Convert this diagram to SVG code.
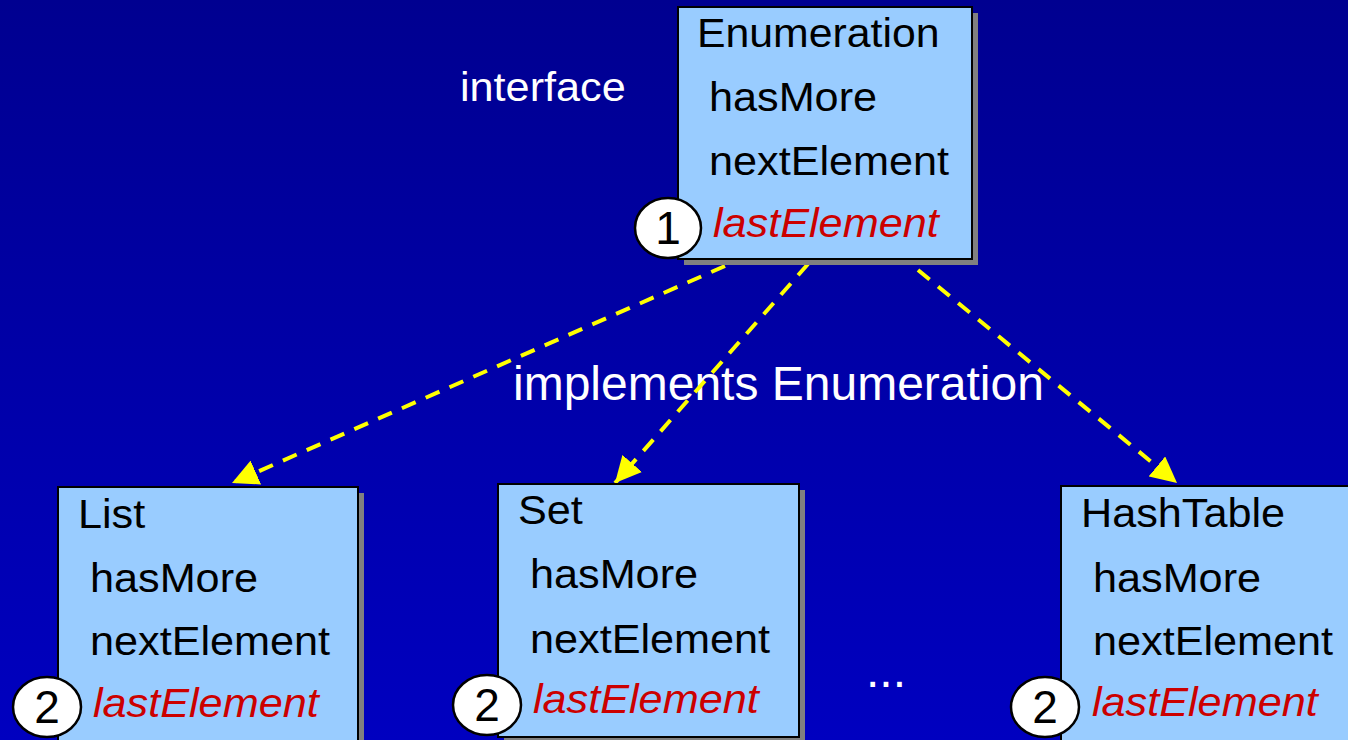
<svg xmlns="http://www.w3.org/2000/svg" width="1348" height="740" viewBox="0 0 1348 740">
  <defs>
    <linearGradient id="bg" x1="0" y1="0" x2="0" y2="1">
      <stop offset="0" stop-color="#000090"/>
      <stop offset="1" stop-color="#0000C0"/>
    </linearGradient>
    <marker id="head" markerUnits="userSpaceOnUse" markerWidth="26" markerHeight="26" viewBox="0 -12 24 24" refX="24" refY="0" orient="auto">
      <path d="M0,-12 L24,0 L0,12 z" fill="#FFFF00"/>
    </marker>
  </defs>
  <style>
    text { font-family: "Liberation Sans", Arial, sans-serif; }
    .label { fill: #FFFFFF; }
    .box { fill: #99CCFF; stroke: #000000; stroke-width: 2; }
    .shadow { fill: #808080; }
    .t { font-size: 40px; fill: #000000; }
    .last { font-size: 40px; fill: #CC0000; font-style: italic; }
    .badge { fill: #FFFFFF; stroke: #000000; stroke-width: 2.5; }
    .num { font-size: 46px; fill: #000000; text-anchor: middle; }
    .link { fill: none; stroke: #FFFF00; stroke-width: 4; stroke-dasharray: 15 11; marker-end: url(#head); }
  </style>

  <rect width="1348" height="740" fill="url(#bg)"/>

  <!-- free labels -->
  <text class="label" font-size="40" transform="translate(460,101) scale(1.08,1)">interface</text>
  <text class="label" font-size="48" x="513" y="400">implements Enumeration</text>
  <text class="label" font-size="48" x="866" y="687">...</text>

  <!-- dashed "implements" connectors -->
  <g id="connectors">
    <line class="link" x1="725" y1="266" x2="232" y2="483"/>
    <line class="link" x1="808" y1="264" x2="615" y2="483"/>
    <line class="link" x1="918" y1="270" x2="1177" y2="483"/>
  </g>

  <!-- interface -->
  <g id="enumeration">
    <rect class="shadow" x="684" y="13" width="294" height="252"/>
    <rect class="box" x="678" y="7" width="294" height="252"/>
    <text class="t" transform="translate(697,47) scale(1.07,1)">Enumeration</text>
    <text class="t" transform="translate(709,111) scale(1.08,1)">hasMore</text>
    <text class="t" transform="translate(709,175) scale(1.08,1)">nextElement</text>
    <text class="last" transform="translate(713,237) scale(1.08,1)">lastElement</text>
    <ellipse class="badge" cx="668" cy="228" rx="33" ry="30"/>
    <text class="num" x="668" y="244">1</text>
  </g>

  <!-- implementing classes -->
  <g id="list">
    <rect class="shadow" x="64" y="493" width="300" height="260"/>
    <rect class="box" x="58" y="487" width="300" height="260"/>
    <text class="t" transform="translate(78,528) scale(1.08,1)">List</text>
    <text class="t" transform="translate(90,592) scale(1.08,1)">hasMore</text>
    <text class="t" transform="translate(90,655) scale(1.08,1)">nextElement</text>
    <text class="last" transform="translate(93,717) scale(1.08,1)">lastElement</text>
    <ellipse class="badge" cx="47" cy="707" rx="34" ry="30"/>
    <text class="num" x="47" y="723">2</text>
  </g>

  <g id="set">
    <rect class="shadow" x="504" y="490" width="301" height="253"/>
    <rect class="box" x="498" y="484" width="301" height="253"/>
    <text class="t" transform="translate(518,524) scale(1.08,1)">Set</text>
    <text class="t" transform="translate(530,588) scale(1.08,1)">hasMore</text>
    <text class="t" transform="translate(530,653) scale(1.08,1)">nextElement</text>
    <text class="last" transform="translate(533,713) scale(1.08,1)">lastElement</text>
    <ellipse class="badge" cx="487" cy="705" rx="34" ry="30"/>
    <text class="num" x="487" y="721">2</text>
  </g>

  <g id="hashtable">
    <rect class="shadow" x="1067" y="492" width="300" height="260"/>
    <rect class="box" x="1061" y="486" width="300" height="260"/>
    <text class="t" transform="translate(1081,527) scale(1.08,1)">HashTable</text>
    <text class="t" transform="translate(1093,592) scale(1.08,1)">hasMore</text>
    <text class="t" transform="translate(1093,655) scale(1.08,1)">nextElement</text>
    <text class="last" transform="translate(1092,716) scale(1.08,1)">lastElement</text>
    <ellipse class="badge" cx="1045" cy="707" rx="34" ry="30"/>
    <text class="num" x="1045" y="723">2</text>
  </g>
</svg>
